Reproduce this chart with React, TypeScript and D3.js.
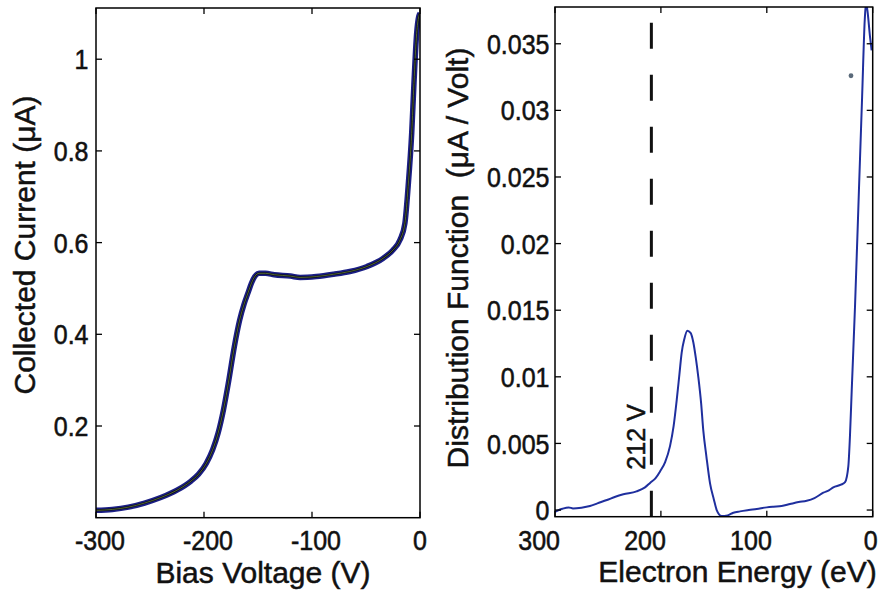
import React from "react";
import * as d3 from "d3";

// ---------- Left panel data: I-V curve ----------
const biasVoltage = [-300, -285, -270, -255, -240, -225, -212, -205, -198, -192, -187, -182, -177, -172, -167, -163, -159, -156, -153, -149, -143, -135, -120, -111, -96, -80, -65, -49, -34, -25, -18.5, -14, -11, -7.7, -5.6, -3.1, -1.2, 0];
const collectedCurrent = [0.016, 0.018, 0.023, 0.032, 0.044, 0.06, 0.08, 0.095, 0.118, 0.148, 0.184, 0.235, 0.3, 0.372, 0.431, 0.465, 0.492, 0.512, 0.526, 0.533, 0.533, 0.53, 0.527, 0.524, 0.526, 0.531, 0.537, 0.548, 0.566, 0.584, 0.606, 0.642, 0.722, 0.838, 0.947, 1.056, 1.093, 1.1];
const leftXTicks = [-300, -200, -100, 0];
const leftYTicks = [0.2, 0.4, 0.6, 0.8, 1];

// ---------- Right panel data: distribution function ----------
const electronEnergy = [300, 293, 287, 283, 275, 267, 260, 251, 243, 235.5, 223, 215, 210, 205, 200.8, 196, 191.4, 188, 185, 182.5, 180.4, 178, 175, 172, 169.4, 167, 164.7, 162, 160, 157, 153.6, 150, 147.3, 142.6, 137, 131.6, 125.3, 117, 109.5, 100, 93.8, 86, 78.1, 70, 62.3, 55, 46.6, 41, 37.2, 30, 26.1, 23, 21.5, 19.8, 16.7, 13, 10, 7.5, 6.3, 5, 2.5, 1];
const distribution = [-0.00013, 0.0001, 0.0002, 0.00012, 0.00018, 0.0003, 0.0005, 0.00075, 0.001, 0.00118, 0.0014, 0.0017, 0.00205, 0.0024, 0.0029, 0.0036, 0.0048, 0.0063, 0.0083, 0.0102, 0.0118, 0.0128, 0.01346, 0.0133, 0.0126, 0.0114, 0.01, 0.008, 0.006, 0.004, 0.002, 0.0008, 0.0, -0.00045, -0.0004, -0.0002, -0.0001, 0.0, 0.00008, 0.0002, 0.00025, 0.0003, 0.00045, 0.0006, 0.0007, 0.0009, 0.0013, 0.0015, 0.0017, 0.0019, 0.0021, 0.0033, 0.0055, 0.009, 0.0153, 0.024, 0.031, 0.0368, 0.0381, 0.0375, 0.0355, 0.0345];
const rightXTicks = [300, 200, 100, 0];
const rightYTicks = [0, 0.005, 0.01, 0.015, 0.02, 0.025, 0.03, 0.035];
const markerEnergy = [209];
const markerLabel = ["212 V"];
const strayPoint = [{ e: 20.5, f: 0.0326 }];

const FONT = "'Liberation Sans', Arial, Helvetica, sans-serif";
const TICK_FS = 25;
const TICK_SY = 1.12;
const LABEL_FS = 30;
const TXT = { fill: "#111", stroke: "#111", strokeWidth: 0.5 };

export default function App() {
  // Left scales
  const lx = d3.scaleLinear().domain([-300, 0]).range([96, 420]);
  const ly = d3.scaleLinear().domain([0, 1.1117]).range([517.7, 8]);
  // Right scales
  const rx = d3.scaleLinear().domain([300, 0]).range([555, 872.7]);
  const ry = d3.scaleLinear().domain([-0.0005, 0.03776]).range([516.7, 7]);

  const leftPts = biasVoltage.map((v, i) => [v, collectedCurrent[i]] as [number, number]);
  const rightPts = electronEnergy.map((e, i) => [e, distribution[i]] as [number, number]);

  const leftLine = d3
    .line<[number, number]>()
    .x((d) => lx(d[0]))
    .y((d) => ly(d[1]))
    .curve(d3.curveMonotoneX);
  const rightLine = d3
    .line<[number, number]>()
    .x((d) => rx(d[0]))
    .y((d) => ry(d[1]))
    .curve(d3.curveMonotoneX);

  const tickLen = 6;
  const fmt = (v: number) => String(v);

  const lX0 = lx.range()[0], lX1 = lx.range()[1];
  const lY0 = ly.range()[0], lY1 = ly.range()[1];
  const rX0 = rx.range()[0], rX1 = rx.range()[1];
  const rY0 = ry.range()[0], rY1 = ry.range()[1];

  return (
    <svg
      width={883}
      height={591}
      viewBox="0 0 883 591"
      style={{ position: "absolute", left: 0, top: 0, background: "#fff" }}
      fontFamily={FONT}
    >
      <rect x={0} y={0} width={883} height={591} fill="#fff" />
      <defs>
        <clipPath id="clipL">
          <rect x={lX0} y={lY1} width={lX1 - lX0} height={lY0 - lY1} />
        </clipPath>
        <clipPath id="clipR">
          <rect x={rX0} y={rY1} width={rX1 - rX0} height={rY0 - rY1} />
        </clipPath>
      </defs>

      {/* ---------------- LEFT PANEL ---------------- */}
      <g clipPath="url(#clipL)">
        <path d={leftLine(leftPts) || ""} fill="none" stroke="#1b1f86" strokeWidth={5.5} strokeLinejoin="round" />
        <path d={leftLine(leftPts) || ""} fill="none" stroke="#0a0a1a" strokeWidth={2.2} />
        <path d={leftLine(leftPts) || ""} fill="none" stroke="#7a9a3a" strokeWidth={0.8} opacity={0.8} />
      </g>
      <rect x={lX0} y={lY1} width={lX1 - lX0} height={lY0 - lY1} fill="none" stroke="#000" strokeWidth={1.5} />
      {leftXTicks.map((t) => (
        <g key={"lxt" + t}>
          <line x1={lx(t)} x2={lx(t)} y1={lY0} y2={lY0 - tickLen} stroke="#000" strokeWidth={1.3} />
          <line x1={lx(t)} x2={lx(t)} y1={lY1} y2={lY1 + tickLen} stroke="#000" strokeWidth={1.3} />
          <text
            transform={`translate(${lx(t) + (t < 0 ? 4 : 0)},550) scale(1,${TICK_SY})`}
            textAnchor="middle"
            fontSize={TICK_FS}
            {...TXT}
          >
            {fmt(t)}
          </text>
        </g>
      ))}
      {leftYTicks.map((t) => (
        <g key={"lyt" + t}>
          <line x1={lX0} x2={lX0 + tickLen} y1={ly(t)} y2={ly(t)} stroke="#000" strokeWidth={1.3} />
          <line x1={lX1} x2={lX1 - tickLen} y1={ly(t)} y2={ly(t)} stroke="#000" strokeWidth={1.3} />
          <text
            transform={`translate(88.5,${ly(t)}) scale(1,${TICK_SY})`}
            textAnchor="end"
            dy="0.36em"
            fontSize={TICK_FS}
            {...TXT}
          >
            {fmt(t)}
          </text>
        </g>
      ))}
      <text x={263} y={583} textAnchor="middle" fontSize={LABEL_FS} {...TXT}>
        Bias Voltage (V)
      </text>
      <text transform="translate(35,245) rotate(-90)" textAnchor="middle" fontSize={LABEL_FS} {...TXT}>
        Collected Current (μA)
      </text>

      {/* ---------------- RIGHT PANEL ---------------- */}
      {markerEnergy.map((e) => (
        <line
          key={"mk" + e}
          x1={rx(e)}
          x2={rx(e)}
          y1={rY0}
          y2={rY1}
          stroke="#111"
          strokeWidth={3}
          strokeDasharray="26 26"
        />
      ))}
      {markerEnergy.map((e, i) => (
        <text
          key={"mkl" + e}
          transform={`translate(${rx(e) - 6},437) rotate(-90)`}
          textAnchor="middle"
          fontSize={25}
          {...TXT}
        >
          {markerLabel[i]}
        </text>
      ))}
      <g clipPath="url(#clipR)">
        <path d={rightLine(rightPts) || ""} fill="none" stroke="#1f2f9e" strokeWidth={2} strokeLinejoin="round" />
      </g>
      {strayPoint.map((p, i) => (
        <circle key={"sp" + i} cx={rx(p.e)} cy={ry(p.f)} r={2.4} fill="#5a6a7a" />
      ))}
      <rect x={rX0} y={rY1} width={rX1 - rX0} height={rY0 - rY1} fill="none" stroke="#000" strokeWidth={1.5} />
      {rightXTicks.map((t) => (
        <g key={"rxt" + t}>
          <line x1={rx(t)} x2={rx(t)} y1={rY0} y2={rY0 - tickLen} stroke="#000" strokeWidth={1.3} />
          <line x1={rx(t)} x2={rx(t)} y1={rY1} y2={rY1 + tickLen} stroke="#000" strokeWidth={1.3} />
          <text
            transform={`translate(${rx(t) + 5},550) scale(1,${TICK_SY})`}
            textAnchor="end"
            fontSize={TICK_FS}
            {...TXT}
          >
            {fmt(t)}
          </text>
        </g>
      ))}
      {rightYTicks.map((t) => (
        <g key={"ryt" + t}>
          <line x1={rX0} x2={rX0 + tickLen} y1={ry(t)} y2={ry(t)} stroke="#000" strokeWidth={1.3} />
          <line x1={rX1} x2={rX1 - tickLen} y1={ry(t)} y2={ry(t)} stroke="#000" strokeWidth={1.3} />
          <text
            transform={`translate(549.5,${ry(t)}) scale(1,${TICK_SY})`}
            textAnchor="end"
            dy="0.36em"
            fontSize={TICK_FS}
            {...TXT}
          >
            {fmt(t)}
          </text>
        </g>
      ))}
      <text x={737.5} y={582} textAnchor="middle" fontSize={LABEL_FS} {...TXT}>
        Electron Energy (eV)
      </text>
      <text transform="translate(468,258) rotate(-90)" textAnchor="middle" fontSize={LABEL_FS} {...TXT} style={{ whiteSpace: "pre" }}>
        {"Distribution Function  (μA / Volt)"}
      </text>
    </svg>
  );
}
